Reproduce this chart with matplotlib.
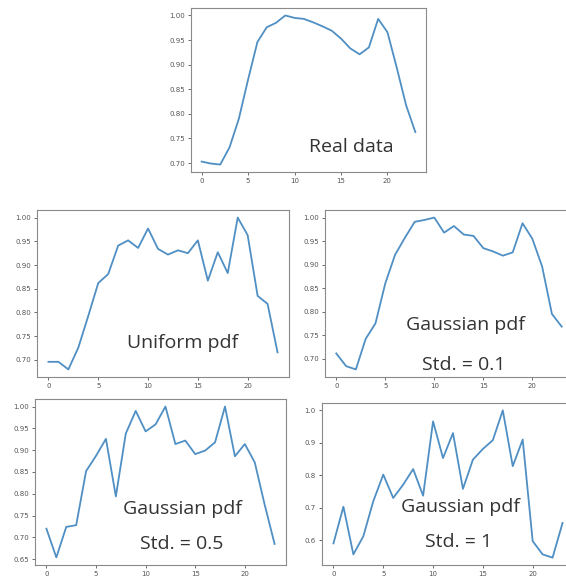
import numpy as np
import matplotlib
matplotlib.use('Agg')
import matplotlib.pyplot as plt

W, H = 566, 576

hours = list(range(24))

real_data = [0.703, 0.699, 0.697, 0.732, 0.790, 0.870, 0.946, 0.976, 0.985, 1.000,
             0.995, 0.993, 0.986, 0.978, 0.969, 0.953, 0.933, 0.921, 0.935, 0.993,
             0.966, 0.894, 0.818, 0.763]
uniform_pdf = [0.696, 0.696, 0.680, 0.726, 0.793, 0.862, 0.881, 0.941, 0.952, 0.936,
               0.977, 0.934, 0.922, 0.931, 0.925, 0.952, 0.867, 0.927, 0.883, 1.000,
               0.963, 0.835, 0.818, 0.716]
gauss_01 = [0.711, 0.684, 0.677, 0.742, 0.775, 0.860, 0.921, 0.957, 0.991, 0.995,
            1.000, 0.968, 0.982, 0.964, 0.961, 0.935, 0.928, 0.919, 0.926, 0.988,
            0.955, 0.896, 0.795, 0.768]
gauss_05 = [0.720, 0.654, 0.724, 0.728, 0.852, 0.887, 0.926, 0.794, 0.938, 0.990,
            0.943, 0.959, 1.000, 0.914, 0.922, 0.891, 0.899, 0.918, 1.000, 0.886,
            0.914, 0.872, 0.775, 0.685]
gauss_1 = [0.590, 0.703, 0.556, 0.612, 0.720, 0.802, 0.730, 0.771, 0.819, 0.737,
           0.966, 0.853, 0.930, 0.758, 0.848, 0.881, 0.908, 1.000, 0.828, 0.910,
           0.597, 0.556, 0.546, 0.653]

labels = [['Real data'], ['Uniform pdf'], ['Gaussian pdf', 'Std. = 0.1'],
          ['Gaussian pdf', 'Std. = 0.5'], ['Gaussian pdf', 'Std. = 1']]
series = [real_data, uniform_pdf, gauss_01, gauss_05, gauss_1]

# axes boxes in pixels: left, top, right, bottom
boxes = [(191, 8, 426, 172), (37, 210, 289, 377), (325, 210, 573, 377),
         (35, 399, 286, 565), (322, 403, 574, 565)]
# text centres in pixels
text_pos = [[(351, 147)], [(183, 343)], [(465, 325), (464, 365)],
            [(182, 509), (182, 544)], [(460, 507), (459, 542)]]

fig = plt.figure(figsize=(W / 100, H / 100), dpi=100)
fig.patch.set_facecolor('white')

for vals, box, labs, pos in zip(series, boxes, labels, text_pos):
    l, t, r, b = box
    ax = fig.add_axes([l / W, (H - b) / H, (r - l) / W, (b - t) / H])
    ax.plot(hours, vals, color='#4f8fc4', lw=1.3)
    ax.set_xticks([0, 5, 10, 15, 20])
    ax.tick_params(labelsize=5, colors='#555555', length=2.5, width=0.6, pad=2)
    for sp in ax.spines.values():
        sp.set_color('#8a8a8a')
        sp.set_linewidth(0.8)
    for s, (px, py) in zip(labs, pos):
        fig.text(px / W, 1 - py / H, s, ha='center', va='center',
                 fontsize=14, color='#333333', family='Open Sans')

fig.savefig('out.png', dpi=100)
